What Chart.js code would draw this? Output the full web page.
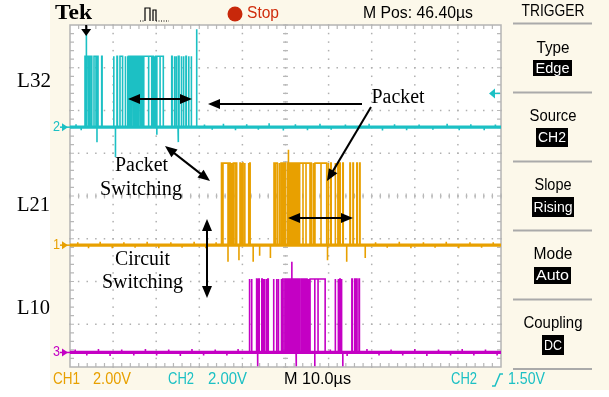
<!DOCTYPE html>
<html><head><meta charset="utf-8">
<script src="https://cdn.jsdelivr.net/npm/chart.js@4.4.1/dist/chart.umd.min.js"></script>
<style>html,body{margin:0;padding:0;background:#fff;overflow:hidden}</style>
</head><body>
<canvas id="c" width="609" height="397"></canvas>
<script>
// ---------------- DATA (time in µs, 10 µs/div; vertical in divisions 0..8) ----------------
const timeRange = [0, 100];
const divRange = [0, 8];

// CH2 (L32, cyan): [low, high] levels and pulse intervals [rise, fall] in µs
const ch2Levels = [5.61, 7.27];
const ch2Pulses = [[3.48,3.78],[3.88,4.18],[4.28,4.58],[4.68,5.06],[5.57,6.50],[7.35,7.45],
  [10.1,10.2],[10.9,11.0],[11.6,12.2],[12.8,12.9],[13.3,13.45],
  [13.55,13.85],[13.95,14.25],[14.35,14.65],[14.75,15.05],[15.15,15.45],[15.55,15.85],[15.95,16.25],
  [16.35,16.65],[16.75,17.05],[17.15,18.96],[19.2,19.3],[19.55,19.7],[19.84,21.65],
  [23.6,23.7],[24.2,24.3],[24.6,24.7],[25.2,25.3],[25.8,25.9],[26.3,26.4],[26.9,27.0],
  [27.5,27.6],[28.1,28.2]];
// spikes / dips: [time, level reached]
const ch2Glitches = [[3.75,7.90],[29.4,7.90],[6.03,5.61],[6.26,5.26],[10.55,4.91],[18.25,5.61],
  [20.15,5.43],[20.9,5.61],[25.06,5.26],
  [1.4,5.68],[2.6,5.54],[31.2,5.67],[33.0,5.55],[35.6,5.69],[38.4,5.54],[41.0,5.68],[43.7,5.55],
  [46.2,5.70],[49.5,5.53],[52.3,5.68],[55.1,5.54],[58.0,5.69],[60.6,5.55],[63.9,5.67],[66.8,5.54],
  [69.4,5.69],[72.5,5.53],[75.3,5.68],[78.1,5.54],[81.0,5.67],[84.2,5.55],[87.5,5.69],[90.3,5.54],
  [93.0,5.68],[96.1,5.54],[98.7,5.67]];

// CH1 (L21, orange)
const ch1Levels = [2.85, 4.77];
const ch1Pulses = [[35.15,35.4],[35.5,36.96],[37.05,37.15],[37.45,37.55],[37.89,38.68],
  [39.44,39.54],[39.8,39.9],[40.07,40.17],[40.5,40.6],[41.4,41.5],[41.7,41.8],
  [47.33,47.6],[47.7,48.1],[48.5,48.6],[48.95,49.05],[49.4,49.5],[49.85,49.95],[50.42,50.6],
  [50.75,51.04],[51.25,51.35],[51.7,51.8],[52.15,52.25],[52.6,52.7],[53.05,53.15],[53.36,55.68],
  [55.9,56.0],[56.4,56.5],[56.84,59.56],[59.9,60.0],[60.5,60.6],[61.5,61.6],[62.15,62.25],
  [62.6,62.7],[63.3,63.4],[64.95,65.05],[65.65,65.75],[66.55,66.65],[67.2,67.3]];
const ch1Glitches = [[50.67,5.08],[36.66,2.46],[38.3,2.85],[54.06,2.85],[54.76,2.85],[58.24,2.85],
  [39.2,2.5],[42.5,2.46],[44.0,2.6],[46.5,2.55],[59.75,2.5],[64.2,2.46],[68.5,2.55],
  [1.8,2.92],[4.3,2.78],[7.0,2.93],[9.8,2.78],[12.5,2.92],[15.1,2.79],[17.9,2.93],[20.6,2.78],
  [23.4,2.92],[26.0,2.79],[28.8,2.93],[31.5,2.78],[33.9,2.92],[70.9,2.92],[73.6,2.79],[76.4,2.93],
  [79.1,2.78],[82.0,2.92],[84.7,2.79],[87.3,2.93],[90.2,2.78],[92.8,2.92],[95.5,2.79],[98.2,2.92]];

// CH3 (L10, magenta)
const ch3Levels = [0.34, 2.06];
const ch3Pulses = [[41.6,41.7],[42.1,42.2],[43.3,43.4],[43.8,43.9],[44.5,44.6],[44.85,44.95],
  [45.05,45.15],[45.5,45.6],[45.9,46.0],[47.2,47.3],[47.9,48.0],[48.3,48.4],[49.0,49.1],
  [49.35,49.45],[49.85,49.95],[50.28,50.5],[50.75,50.95],[51.2,51.4],[51.65,51.85],[52.1,52.3],
  [52.55,52.75],[53.0,53.36],[53.75,53.85],[54.05,54.15],[54.5,54.6],[54.9,55.0],[55.3,55.4],
  [55.7,59.2],[61.5,61.6],[62.2,62.3],[62.6,62.7],[62.95,63.05],[65.4,65.5],[66.05,66.15],
  [66.5,66.6],[67.05,67.15]];
const ch3Glitches = [[51.5,2.46],[43.6,0.02],[52.45,0.02],[56.8,0.02],[57.55,0.34],[63.3,0.02],
  [1.2,0.41],[3.9,0.27],[6.6,0.42],[9.3,0.26],[12.0,0.41],[14.8,0.27],[17.5,0.42],[20.1,0.27],
  [22.9,0.41],[25.6,0.26],[28.3,0.42],[31.0,0.27],[33.7,0.41],[36.4,0.27],[39.0,0.42],[60.4,0.41],
  [64.3,0.26],[68.9,0.42],[71.7,0.27],[74.5,0.41],[77.2,0.27],[80.0,0.42],[82.8,0.26],[85.5,0.41],
  [88.3,0.27],[91.0,0.42],[93.7,0.27],[96.4,0.41],[99.1,0.27]];

// ---------------- build traces ----------------
function buildTrace(levels, pulses, glitches) {
  const lo = levels[0], hi = levels[1];
  const ev = [];
  pulses.forEach(p => { ev.push({t: p[0], k: 'r'}); ev.push({t: p[1], k: 'f'}); });
  glitches.forEach(g => ev.push({t: g[0], k: 'g', v: g[1]}));
  ev.sort((a, b) => a.t - b.t);
  const pts = [{x: timeRange[0], y: lo}];
  let cur = lo;
  ev.forEach(e => {
    if (e.k === 'r') { pts.push({x: e.t, y: cur}); cur = hi; pts.push({x: e.t, y: cur}); }
    else if (e.k === 'f') { pts.push({x: e.t, y: cur}); cur = lo; pts.push({x: e.t, y: cur}); }
    else { pts.push({x: e.t, y: cur}, {x: e.t, y: e.v}, {x: e.t, y: cur}); }
  });
  pts.push({x: timeRange[1], y: cur});
  return pts;
}
function baseline(levels) { return [{x: timeRange[0], y: levels[0]}, {x: timeRange[1], y: levels[0]}]; }

const CYAN = '#1cc0c4', ORANGE = '#e8a000', MAGENTA = '#c400c4';

// ---------------- drawing helpers ----------------
function txt(ctx, s, x, y, font, color, w, align) {
  ctx.save();
  ctx.font = font; ctx.fillStyle = color; ctx.textBaseline = 'middle';
  ctx.textAlign = align || 'left';
  const m = ctx.measureText(s).width;
  const sx = w ? w / m : 1;
  ctx.translate(x, y); ctx.scale(sx, 1);
  ctx.fillText(s, 0, 0);
  ctx.restore();
}
function head(ctx, tx, ty, fx, fy) {
  const a = Math.atan2(ty - fy, tx - fx), len = 12, hw = 5;
  ctx.beginPath();
  ctx.moveTo(tx, ty);
  ctx.lineTo(tx - len * Math.cos(a) + hw * Math.sin(a), ty - len * Math.sin(a) - hw * Math.cos(a));
  ctx.lineTo(tx - len * Math.cos(a) - hw * Math.sin(a), ty - len * Math.sin(a) + hw * Math.cos(a));
  ctx.closePath(); ctx.fill();
}
function arrow(ctx, x1, y1, x2, y2, both) {
  ctx.save();
  ctx.strokeStyle = '#000'; ctx.fillStyle = '#000'; ctx.lineWidth = 2;
  const a = Math.atan2(y2 - y1, x2 - x1);
  const sx = both ? x1 + 8 * Math.cos(a) : x1, sy = both ? y1 + 8 * Math.sin(a) : y1;
  ctx.beginPath(); ctx.moveTo(sx, sy); ctx.lineTo(x2 - 8 * Math.cos(a), y2 - 8 * Math.sin(a)); ctx.stroke();
  head(ctx, x2, y2, x1, y1);
  if (both) head(ctx, x1, y1, x2, y2);
  ctx.restore();
}

const SANS = "'Liberation Sans', Arial, sans-serif";
const SERIF = "'Liberation Serif', 'Times New Roman', serif";

const framePlugin = {
  id: 'scopeFrame',
  beforeDraw(chart) {
    const ctx = chart.ctx, xs = chart.scales.x, ys = chart.scales.y;
    const L = xs.getPixelForValue(xs.min), R = xs.getPixelForValue(xs.max);
    const T = ys.getPixelForValue(ys.max), B = ys.getPixelForValue(ys.min);
    ctx.save();
    ctx.fillStyle = '#ffffff'; ctx.fillRect(0, 0, chart.width, chart.height);
    ctx.fillStyle = '#fcf8ea'; ctx.fillRect(50, 0, chart.width - 50, 390);
    ctx.fillStyle = '#ffffff'; ctx.fillRect(L, T, R - L, B - T);
    ctx.fillStyle = '#b0b0b0';
    for (let gx = 10; gx < 100; gx += 10) {
      const px = xs.getPixelForValue(gx);
      for (let k = 0; k <= 40; k++) { const py = ys.getPixelForValue(k * 0.2); ctx.fillRect(px - 0.75, py - 0.75, 1.5, 1.5); }
    }
    for (let gy = 1; gy < 8; gy++) {
      const py = ys.getPixelForValue(gy);
      for (let k = 0; k <= 50; k++) { const px = xs.getPixelForValue(k * 2); ctx.fillRect(px - 0.75, py - 0.75, 1.5, 1.5); }
    }
    ctx.strokeStyle = '#b8b8b8'; ctx.lineWidth = 1.2;
    const cx = xs.getPixelForValue(50), cy = ys.getPixelForValue(4);
    ctx.beginPath();
    for (let k = 0; k <= 40; k++) { const py = ys.getPixelForValue(k * 0.2); ctx.moveTo(cx - 2.5, py); ctx.lineTo(cx + 2.5, py); }
    for (let k = 0; k <= 50; k++) { const px = xs.getPixelForValue(k * 2); ctx.moveTo(px, cy - 2.5); ctx.lineTo(px, cy + 2.5); }
    for (let k = 1; k < 50; k++) { const px = xs.getPixelForValue(k * 2); ctx.moveTo(px, T); ctx.lineTo(px, T + 4); ctx.moveTo(px, B); ctx.lineTo(px, B - 4); }
    for (let k = 1; k < 40; k++) { const py = ys.getPixelForValue(k * 0.2); ctx.moveTo(L, py); ctx.lineTo(L + 4, py); ctx.moveTo(R, py); ctx.lineTo(R - 4, py); }
    ctx.stroke();
    ctx.strokeStyle = '#b4b4b4'; ctx.lineWidth = 1.5;
    ctx.strokeRect(L, T, R - L, B - T);
    ctx.restore();
  },
  afterDatasetsDraw(chart) {
    const ctx = chart.ctx, xs = chart.scales.x, ys = chart.scales.y;
    const T = ys.getPixelForValue(ys.max), R = xs.getPixelForValue(xs.max), L = xs.getPixelForValue(xs.min);
    ctx.save();
    const marks = [['2', ch2Levels[0], CYAN], ['1', ch1Levels[0], ORANGE], ['3', ch3Levels[0], MAGENTA]];
    marks.forEach(m => {
      const py = ys.getPixelForValue(m[1]);
      txt(ctx, m[0], 53, py, '14px ' + SANS, m[2], 7);
      ctx.fillStyle = m[2]; ctx.strokeStyle = m[2]; ctx.lineWidth = 1.5;
      ctx.beginPath(); ctx.moveTo(62, py - 4); ctx.lineTo(68, py); ctx.lineTo(62, py + 4); ctx.closePath(); ctx.fill();
      ctx.beginPath(); ctx.moveTo(60, py); ctx.lineTo(L, py); ctx.stroke();
    });
    const ty = ys.getPixelForValue(6.4);
    ctx.fillStyle = CYAN; ctx.strokeStyle = CYAN; ctx.lineWidth = 1.5;
    ctx.beginPath(); ctx.moveTo(489, ty); ctx.lineTo(495, ty - 5); ctx.lineTo(495, ty + 5); ctx.closePath(); ctx.fill();
    ctx.beginPath(); ctx.moveTo(494, ty); ctx.lineTo(R - 1, ty); ctx.stroke();
    const tp = xs.getPixelForValue(ch2Glitches[0][0]);
    ctx.fillStyle = '#000'; ctx.strokeStyle = '#000'; ctx.lineWidth = 2;
    ctx.beginPath(); ctx.moveTo(tp, T); ctx.lineTo(tp, T + 6); ctx.stroke();
    ctx.beginPath(); ctx.moveTo(tp - 5, T + 4); ctx.lineTo(tp + 5, T + 4); ctx.lineTo(tp, T + 11); ctx.closePath(); ctx.fill();

    arrow(ctx, 128, 99, 192, 99, true);
    arrow(ctx, 362, 104, 208, 104, false);
    arrow(ctx, 371, 107, 327, 181, false);
    arrow(ctx, 165, 146, 210, 181, true);
    arrow(ctx, 288, 218, 353, 218, true);
    arrow(ctx, 207, 219, 207, 298, true);
    txt(ctx, 'L32', 17, 81, '21px ' + SERIF, '#000', 34);
    txt(ctx, 'L21', 17, 205, '21px ' + SERIF, '#000', 33);
    txt(ctx, 'L10', 17, 308, '21px ' + SERIF, '#000', 33);
    txt(ctx, 'Packet', 141.5, 166, '20px ' + SERIF, '#000', 53, 'center');
    txt(ctx, 'Switching', 141, 190, '20px ' + SERIF, '#000', 82, 'center');
    txt(ctx, 'Circuit', 142.5, 260, '20px ' + SERIF, '#000', 55, 'center');
    txt(ctx, 'Switching', 142.5, 283, '20px ' + SERIF, '#000', 81, 'center');
    txt(ctx, 'Packet', 398, 98, '20px ' + SERIF, '#000', 53, 'center');

    txt(ctx, 'Tek', 55, 14, 'bold 21px ' + SERIF, '#000', 37);
    ctx.strokeStyle = '#000'; ctx.lineWidth = 1.2;
    ctx.beginPath();
    ctx.moveTo(140, 21); ctx.lineTo(145, 21); ctx.moveTo(156, 21); ctx.lineTo(169, 21);
    ctx.setLineDash([1, 1.5]); ctx.stroke(); ctx.setLineDash([]);
    ctx.beginPath(); ctx.moveTo(145, 21); ctx.lineTo(145, 8); ctx.lineTo(150, 8); ctx.lineTo(150, 21);
    ctx.moveTo(153, 21); ctx.lineTo(153, 10); ctx.lineTo(156, 10); ctx.lineTo(156, 21); ctx.stroke();
    ctx.fillStyle = '#c8280a'; ctx.beginPath(); ctx.arc(235, 14, 7.5, 0, Math.PI * 2); ctx.fill();
    txt(ctx, 'Stop', 247, 14, '16px ' + SANS, '#d02c0c', 32);
    txt(ctx, 'M Pos: 46.40\u00b5s', 363, 14, '16px ' + SANS, '#000', 110);
    txt(ctx, 'TRIGGER', 553, 12, '16px ' + SANS, '#000', 63, 'center');

    ctx.strokeStyle = '#aaaaaa'; ctx.lineWidth = 2;
    [23.5, 92.5, 161.5, 230.5, 299.5, 369].forEach(y => { ctx.beginPath(); ctx.moveTo(513, y); ctx.lineTo(592, y); ctx.stroke(); });
    const items = [['Type', 48.5, 33, 'Edge', 533, 60, 39, 16, 34],
                   ['Source', 117, 47, 'CH2', 536, 128, 32, 19, 28],
                   ['Slope', 186, 37, 'Rising', 532, 197, 42, 20, 39],
                   ['Mode', 255, 39, 'Auto', 534, 267, 37, 17, 33],
                   ['Coupling', 323.5, 59, 'DC', 542, 335, 22, 20, 18]];
    items.forEach(it => {
      txt(ctx, it[0], 553, it[1], '16px ' + SANS, '#000', it[2], 'center');
      ctx.fillStyle = '#000'; ctx.fillRect(it[4], it[5], it[6], it[7]);
      txt(ctx, it[3], it[4] + it[6] / 2, it[5] + it[7] / 2 + 0.5, '15px ' + SANS, '#fff', it[8], 'center');
    });

    txt(ctx, 'CH1', 53, 380, '16px ' + SANS, ORANGE, 27);
    txt(ctx, '2.00V', 93, 380, '16px ' + SANS, ORANGE, 38);
    txt(ctx, 'CH2', 168, 380, '16px ' + SANS, CYAN, 26);
    txt(ctx, '2.00V', 208, 380, '16px ' + SANS, CYAN, 39);
    txt(ctx, 'M 10.0\u00b5s', 284, 380, '16px ' + SANS, '#000', 67);
    txt(ctx, 'CH2', 451, 380, '16px ' + SANS, CYAN, 26);
    ctx.strokeStyle = CYAN; ctx.lineWidth = 1.5;
    ctx.beginPath(); ctx.moveTo(492, 386); ctx.lineTo(495, 386); ctx.lineTo(500, 374); ctx.lineTo(503, 374); ctx.stroke();
    txt(ctx, '1.50V', 508, 380, '16px ' + SANS, CYAN, 37);
    ctx.restore();
  }
};

new Chart(document.getElementById('c'), {
  type: 'line',
  data: {
    datasets: [
      {label: 'L32 (CH2)', data: buildTrace(ch2Levels, ch2Pulses, ch2Glitches), borderColor: CYAN},
      {label: 'L21 (CH1)', data: buildTrace(ch1Levels, ch1Pulses, ch1Glitches), borderColor: ORANGE},
      {label: 'L10 (CH3)', data: buildTrace(ch3Levels, ch3Pulses, ch3Glitches), borderColor: MAGENTA},
      {label: 'CH2 ground', data: baseline(ch2Levels), borderColor: CYAN, borderWidth: 3.2},
      {label: 'CH1 ground', data: baseline(ch1Levels), borderColor: ORANGE, borderWidth: 3.2},
      {label: 'CH3 ground', data: baseline(ch3Levels), borderColor: MAGENTA, borderWidth: 3.2}
    ]
  },
  options: {
    responsive: false, animation: false, events: [],
    layout: {padding: {left: 70, top: 25, right: 108, bottom: 30}},
    scales: {
      x: {type: 'linear', min: timeRange[0], max: timeRange[1], display: false},
      y: {type: 'linear', min: divRange[0], max: divRange[1], display: false}
    },
    elements: {point: {radius: 0}, line: {tension: 0, borderWidth: 1.6}},
    plugins: {legend: {display: false}, tooltip: {enabled: false}}
  },
  plugins: [framePlugin]
});
</script>
</body></html>
